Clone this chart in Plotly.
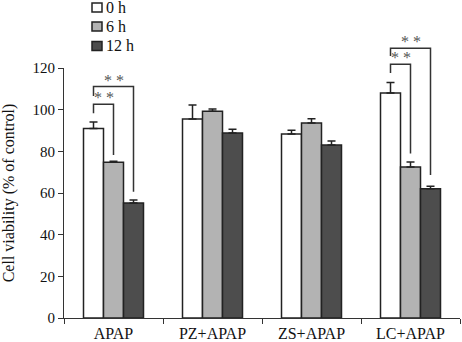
import plotly.graph_objects as go

categories = ["APAP", "PZ+APAP", "ZS+APAP", "LC+APAP"]
series_names = ["0 h", "6 h", "12 h"]
values_0h = [91, 95.5, 88.3, 108]
values_6h = [74.8, 99.3, 93.6, 72.5]
values_12h = [55.2, 88.8, 83, 62]
err_0h = [3.1, 6.7, 1.8, 5.1]
err_6h = [0.5, 1.0, 2.1, 2.4]
err_12h = [1.4, 1.8, 2.0, 1.2]
y_ticks = [0, 20, 40, 60, 80, 100, 120]

# significance brackets: (group index, from series, to series, bar-height, left end, right end)
sig_brackets = [
    (0, 0, 1, 102.6, 98.3, 78.2),
    (0, 0, 2, 111.1, 106.6, 60.6),
    (3, 0, 1, 121.8, 117.6, 79.0),
    (3, 0, 2, 129.5, 125.8, 68.6),
]
sig_label = "* *"

colors = ["#ffffff", "#b3b3b3", "#4d4d4d"]
line_col = "#222222"
font_family = "Liberation Serif, Times New Roman, serif"

values = [values_0h, values_6h, values_12h]
errors = [err_0h, err_6h, err_12h]

Y_MAX = 120
BARGAP = 0.394
bar_w = (1 - BARGAP) / 3

fig = go.Figure()
for k in range(3):
    fig.add_trace(go.Bar(
        x=categories, y=values[k], name=series_names[k],
        marker=dict(color=colors[k], line=dict(color=line_col, width=1.5)),
        error_y=dict(type="data", array=errors[k], arrayminus=[0] * len(errors[k]),
                     symmetric=False, color=line_col, thickness=1.5, width=4),
        showlegend=False,
    ))

def bx(g, s):
    return g + (s - 1) * bar_w

shapes = []
annotations = []
for g, s1, s2, h, l_end, r_end in sig_brackets:
    x1, x2 = bx(g, s1), bx(g, s2)
    path = "M {x1},{a} L {x1},{h} L {x2},{h} L {x2},{b}".format(
        x1=x1, x2=x2, a=l_end / Y_MAX, h=h / Y_MAX, b=r_end / Y_MAX)
    shapes.append(dict(type="path", xref="x", yref="paper", path=path,
                       line=dict(color="#333333", width=1.5)))
    annotations.append(dict(x=(x1 + x2) / 2, y=h / Y_MAX, xref="x", yref="paper",
                            text=sig_label, showarrow=False, yanchor="bottom", yshift=-4,
                            font=dict(family=font_family, size=16, color="#555555")))

# manual legend
PLOT_L, PLOT_W, PLOT_T, PLOT_H = 64, 396, 68, 250
def px2paper(px, py):
    return (px - PLOT_L) / PLOT_W, (PLOT_T + PLOT_H - py) / PLOT_H

leg_rows = [7.5, 26.5, 46]
for k, name in enumerate(series_names):
    cy = leg_rows[k]
    x0, y0 = px2paper(92, cy + 4.5)
    x1, y1 = px2paper(102, cy - 4.5)
    shapes.append(dict(type="rect", xref="paper", yref="paper", x0=x0, x1=x1, y0=y0, y1=y1,
                       fillcolor=colors[k], line=dict(color=line_col, width=1.5)))
    tx, ty = px2paper(103.5, cy)
    annotations.append(dict(x=tx, y=ty, xref="paper", yref="paper", text=name,
                            showarrow=False, xanchor="left", yanchor="middle",
                            font=dict(family=font_family, size=16, color="#111111")))

fig.update_layout(
    width=462, height=342,
    margin=dict(l=PLOT_L, r=462 - PLOT_L - PLOT_W, t=PLOT_T, b=342 - PLOT_T - PLOT_H),
    barmode="group", bargap=BARGAP, bargroupgap=0,
    plot_bgcolor="white", paper_bgcolor="white",
    font=dict(family=font_family, size=15, color="#111111"),
    shapes=shapes, annotations=annotations,
    showlegend=False,
)
fig.update_xaxes(showline=True, linecolor="#333333", linewidth=1, ticks="outside",
                 tickson="boundaries", ticklen=5, tickcolor="#333333",
                 showgrid=False, zeroline=False, tickfont=dict(size=16), automargin=False,
                 ticklabelstandoff=1)
fig.update_yaxes(range=[0, Y_MAX], tickvals=y_ticks, showline=True, linecolor="#333333",
                 linewidth=1, ticks="outside", ticklen=5, tickcolor="#333333",
                 showgrid=False, zeroline=False, tickfont=dict(size=15), automargin=False,
                 title=dict(text="Cell viability (% of control)", font=dict(size=16), standoff=16))

fig.write_html("out.html", config={"displayModeBar": False},
               post_script="document.body.style.margin='0';document.body.style.padding='0';")
